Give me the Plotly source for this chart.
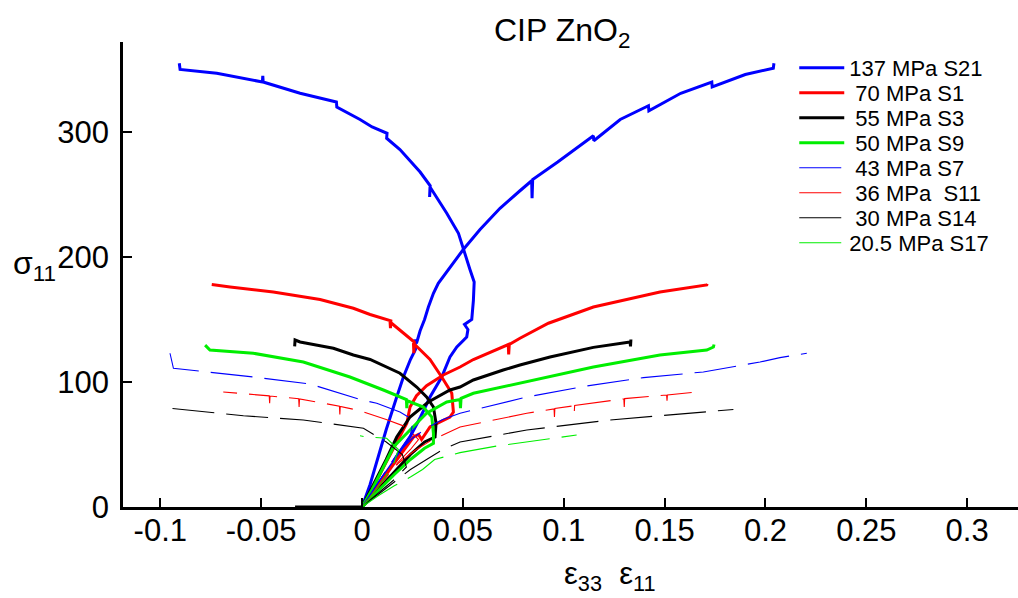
import plotly.graph_objects as go

# ---------------- data ----------------
LABELS = ["137 MPa S21", "\u00a070 MPa S1", "\u00a055 MPa S3", "\u00a050 MPa S9",
          "\u00a043 MPa S7", "\u00a036 MPa\u00a0 S11", "\u00a030 MPa S14", "20.5 MPa S17"]
COLORS = ["#0000ff", "#ff0000", "#000000", "#00ee00", "#0000ff", "#ff0000", "#000000", "#00ee00"]

# S21 (137 MPa)
S21_E11_X = [0, 0.004, 0.008, 0.012, 0.0172, 0.0205, 0.024, 0.0265, 0.0262, 0.027, 0.0288, 0.031, 0.0329, 0.0354,
             0.0378, 0.0436, 0.0502, 0.0585, 0.0684, 0.0783, 0.0841, 0.0843, 0.0846, 0.097, 0.1147, 0.1149, 0.128,
             0.142, 0.1422, 0.158, 0.1734, 0.1736, 0.19, 0.2039, 0.2042]
S21_E11_Y = [0, 18, 40, 62, 88, 104, 118, 126, 134, 131, 141, 150, 160, 171,
             179, 192, 206, 222, 239, 253, 261, 247, 262, 276, 297, 293, 310,
             321, 317, 331, 340, 336, 346, 351, 355]
S21_E33_X = [0, 0.008, 0.016, 0.0238, 0.029, 0.0337, 0.0395, 0.0436, 0.047, 0.0519, 0.0525, 0.0508, 0.0544,
             0.0552, 0.0556, 0.0535, 0.0502, 0.0478, 0.042, 0.0337, 0.0335, 0.0338, 0.0288, 0.0188, 0.0122,
             0.0124, 0.005, -0.001, -0.0125, -0.0127, -0.0307, -0.049, -0.0492, -0.0494, -0.072, -0.0902, -0.0906]
S21_E33_Y = [0, 18, 37, 56, 72, 88, 104, 120, 128, 136, 142, 146, 150,
             165, 180, 190, 206, 219, 235, 256, 248, 257, 268, 286, 295,
             299, 304, 310, 320, 324, 331, 340, 345, 340, 347, 350, 355]

# S1 (70 MPa)
S1_E11_X = [0, 0.006, 0.012, 0.0188, 0.0222, 0.0238, 0.027, 0.032, 0.0403, 0.0486, 0.0552, 0.0725, 0.0727,
            0.073, 0.0783, 0.0924, 0.1147, 0.1477, 0.1709, 0.1712]
S1_E11_Y = [0, 17, 36, 56, 67, 80, 89, 97, 105.6, 112, 118, 130, 122,
            130, 135, 147, 160, 172, 177.6, 178.5]
S1_E33_X = [0, 0.008, 0.016, 0.0255, 0.028, 0.0295, 0.0337, 0.0436, 0.0453, 0.0445, 0.0395, 0.0337,
            0.0255, 0.0257, 0.0259, 0.0139, 0.0141, 0.0143, 0.004, -0.0043, -0.0208, -0.044, -0.0654, -0.0745]
S1_E33_Y = [0, 17, 35, 56, 58, 54, 64, 72, 76, 91, 104, 118,
            131, 123, 132, 148, 143, 149, 154, 159, 166, 172, 176, 178]

# S3 (55 MPa)
S3_E11_X = [0, 0.006, 0.012, 0.0172, 0.0238, 0.0329, 0.0436, 0.0486, 0.0552, 0.070, 0.0783, 0.0932,
            0.1147, 0.1329, 0.1331, 0.1333]
S3_E11_Y = [0, 19, 38, 56, 72, 84, 93.6, 96, 101.6, 109.6, 113.6, 120,
            127.7, 132, 128.5, 134]
S3_E33_X = [-0.0332, 0, 0.008, 0.016, 0.024, 0.031, 0.0362, 0.0367, 0.0354, 0.032, 0.0271, 0.0188,
            0.004, -0.0043, -0.0142, -0.0208, -0.0307, -0.0332, -0.0334]
S3_E33_Y = [0, 0, 14, 28, 42, 52, 56, 67, 80, 88, 96, 107,
            118, 121.6, 127, 129, 132, 133.6, 128.5]

# S9 (50 MPa)
S9_E11_X = [0, 0.005, 0.010, 0.0156, 0.0238, 0.032, 0.042, 0.0486, 0.0488, 0.0491, 0.0552, 0.0783,
            0.1147, 0.1477, 0.1709, 0.1742, 0.1745]
S9_E11_Y = [0, 14, 30, 48, 61.6, 75, 84, 86, 79, 87, 91, 99,
            112, 121.6, 125.6, 128, 130]
S9_E33_X = [0, 0.008, 0.016, 0.024, 0.031, 0.0354, 0.0354, 0.0346, 0.0304, 0.0224, 0.0222, 0.022,
            0.0106, -0.006, -0.0291, -0.0539, -0.0754, -0.0778]
S9_E33_Y = [0, 13, 26, 38, 47, 51, 59, 72, 80, 85, 79, 86,
            93.6, 104, 116, 123, 125.6, 129.5]

# S7 (43 MPa)
S7_E11_X = [0, 0.006, 0.012, 0.018, 0.025, 0.032, 0.040, 0.0486, 0.0817, 0.1114, 0.1395, 0.1692, 0.1973,
            0.2072, 0.2205]
S7_E11_Y = [0, 15, 30, 44, 55, 63, 70, 75, 88, 96.8, 103.5, 108, 116,
            119.5, 123]
S7_E33_X = [0, 0.006, 0.012, 0.018, 0.024, 0.0255, 0.0188, 0.0073, -0.001, -0.0258, -0.0539, -0.0836,
            -0.0935, -0.0952]
S7_E33_Y = [0, 15, 30, 44, 58, 69.6, 76, 83, 86, 98.4, 104, 108.8,
            111, 123]

# S11 (36 MPa)
S11_E11_X = [0, 0.006, 0.012, 0.018, 0.026, 0.034, 0.042, 0.0486, 0.0817, 0.0952, 0.0954, 0.0956, 0.105,
             0.1052, 0.1054, 0.118, 0.1298, 0.13, 0.1302, 0.151, 0.1512, 0.1514, 0.166]
S11_E11_Y = [0, 12, 24, 35, 45, 53, 59, 64, 75, 78.5, 72, 78.8, 81,
             75, 81.3, 84, 86.5, 80, 86.7, 89.6, 85, 89.7, 92]
S11_E33_X = [0, 0.006, 0.012, 0.018, 0.024, 0.028, 0.022, 0.012, -0.001, -0.0108, -0.011, -0.0112,
             -0.0208, -0.031, -0.0312, -0.0314, -0.0456, -0.0458, -0.046, -0.0688]
S11_E33_Y = [0, 12, 24, 36, 46, 54, 64, 70, 77, 80.5, 74, 80.6,
             83.5, 86.5, 80, 86.6, 88.8, 83, 88.9, 92]

# S14 (30 MPa)
S14_E11_X = [0, 0.008, 0.016, 0.024, 0.032, 0.040, 0.0486, 0.0817, 0.123, 0.1543, 0.1841]
S14_E11_Y = [0, 10, 20, 30, 38, 46, 52, 61.6, 69.6, 73.6, 78]
S14_E33_X = [0, 0.008, 0.016, 0.022, 0.020, 0.012, 0.0007, -0.0291, -0.0588, -0.0952]
S14_E33_Y = [0, 11, 22, 32, 42, 52, 63, 69.6, 73, 79]

# S17 (20.5 MPa)
S17_E11_X = [0, 0.008, 0.016, 0.024, 0.030, 0.036, 0.0486, 0.0668, 0.0948, 0.1064]
S17_E11_Y = [0, 9, 17, 24, 30, 38, 43.5, 48.8, 55, 57.6]
S17_E33_X = [0, 0.006, 0.012, 0.016, 0.018, 0.014, 0.0122, 0.0023, -0.001]
S17_E33_Y = [0, 12, 25, 36, 46, 52, 55, 56, 57]

E11_X = [S21_E11_X, S1_E11_X, S3_E11_X, S9_E11_X, S7_E11_X, S11_E11_X, S14_E11_X, S17_E11_X]
E11_Y = [S21_E11_Y, S1_E11_Y, S3_E11_Y, S9_E11_Y, S7_E11_Y, S11_E11_Y, S14_E11_Y, S17_E11_Y]
E33_X = [S21_E33_X, S1_E33_X, S3_E33_X, S9_E33_X, S7_E33_X, S11_E33_X, S14_E33_X, S17_E33_X]
E33_Y = [S21_E33_Y, S1_E33_Y, S3_E33_Y, S9_E33_Y, S7_E33_Y, S11_E33_Y, S14_E33_Y, S17_E33_Y]

X_TICKS = [-0.1, -0.05, 0, 0.05, 0.1, 0.15, 0.2, 0.25, 0.3]
X_TICK_TEXT = ["-0.1", "-0.05", "0", "0.05", "0.1", "0.15", "0.2", "0.25", "0.3"]
Y_TICKS = [0, 100, 200, 300]
Y_TICK_TEXT = ["0", "100", "200", "300"]

# ---------------- figure ----------------
FONT = "Liberation Sans, Arial, sans-serif"
PLOT_TOP, PLOT_BOTTOM = 42, 507          # pixel rows of the plot area
LEGEND_ROW0, LEGEND_ROW_STEP = 68, 25     # pixel centre of first legend row and row spacing

fig = go.Figure()
legend_layouts = {}
for i in range(8):
    thick = i < 4
    line = dict(color=COLORS[i], width=3 if thick else 1.1)
    if not thick:
        line["dash"] = "42px,12px"
    lname = "legend" if i == 0 else f"legend{i + 1}"
    fig.add_trace(go.Scatter(x=E11_X[i], y=E11_Y[i], mode="lines", line=line, name=LABELS[i],
                             legendgroup=str(i), showlegend=True, legend=lname))
    fig.add_trace(go.Scatter(x=E33_X[i], y=E33_Y[i], mode="lines", line=line, name=LABELS[i],
                             legendgroup=str(i), showlegend=False, legend=lname))
    yc = LEGEND_ROW0 + i * LEGEND_ROW_STEP
    legend_layouts[lname] = dict(
        x=0.75, y=(PLOT_BOTTOM - yc) / (PLOT_BOTTOM - PLOT_TOP), xanchor="left", yanchor="middle",
        bgcolor="rgba(0,0,0,0)", borderwidth=0, font=dict(size=22, family=FONT, color="black"),
        itemwidth=45, tracegroupgap=0)

axis_common = dict(showgrid=False, zeroline=False, showline=True, linecolor="black", linewidth=2.5,
                   ticks="inside", ticklen=9, tickwidth=2, tickcolor="black",
                   tickfont=dict(family=FONT, size=31, color="black"))
fig.update_xaxes(range=[-0.1185, 0.3252], tickvals=X_TICKS, ticktext=X_TICK_TEXT,
                 ticklabelstandoff=-6, **axis_common)
fig.update_yaxes(range=[0, 372], tickvals=Y_TICKS, ticktext=Y_TICK_TEXT,
                 ticklabelstandoff=5, **axis_common)

fig.update_layout(
    width=1018, height=598,
    margin=dict(l=123, r=0, t=42, b=91, pad=0),
    plot_bgcolor="white", paper_bgcolor="white",
    font=dict(family=FONT, color="black"),
    showlegend=True,
    **legend_layouts,
)
fig.add_annotation(text="CIP ZnO<sub>2</sub>", xref="paper", yref="paper", x=0.4905, y=1.02,
                   xanchor="center", yanchor="middle", showarrow=False,
                   font=dict(size=32, family=FONT))
fig.add_annotation(text="ε<sub>33</sub>  ε<sub>11</sub>", xref="paper", yref="paper", x=0.544, y=-0.1,
                   xanchor="center", yanchor="top", showarrow=False,
                   font=dict(size=31, family=FONT))
fig.add_annotation(text="σ<sub>11</sub>", xref="paper", yref="paper", x=-0.0726, y=0.52,
                   xanchor="right", yanchor="middle", showarrow=False,
                   font=dict(size=32, family=FONT))

fig.write_html("out.html")
